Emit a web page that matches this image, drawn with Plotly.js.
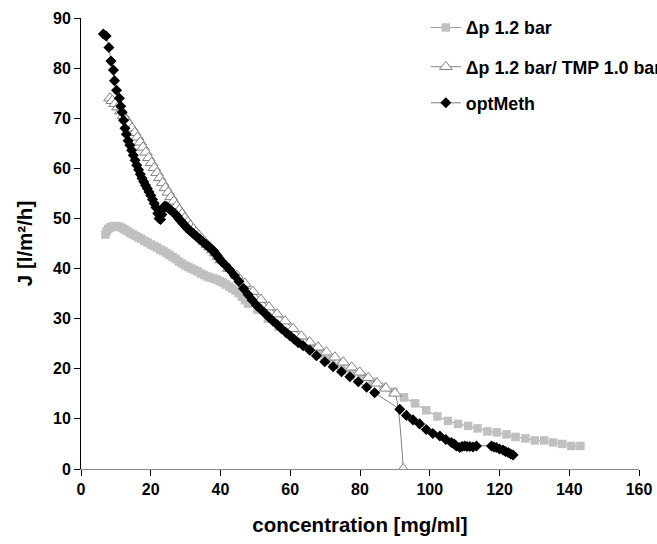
<!DOCTYPE html>
<html>
<head>
<meta charset="utf-8">
<script src="https://cdn.plot.ly/plotly-3.0.1.min.js"></script>
<style>html,body{margin:0;padding:0;background:#fff;}#chart{width:657px;height:544px;}</style>
</head>
<body>
<div id="chart"></div>
<script>
// Series: Δp 1.2 bar (grey squares)
const sqX = [7.0,7.3,7.8,8.4,9.0,9.7,10.4,11.1,11.8,12.5,13.3,14.1,14.9,15.7,16.5,17.3,18.2,19.1,20.0,20.9,21.8,22.7,23.6,24.5,25.4,26.3,27.2,28.1,29.0,29.9,30.8,31.7,32.6,33.5,34.4,35.3,36.2,37.1,38.0,38.9,39.8,40.7,41.6,42.5,43.4,44.3,45.2,46.1,47.0,47.9,50.6,53.6,56.6,59.6,62.6,65.6,68.6,71.6,74.6,77.6,80.6,83.6,86.6,89.6,92.6,95.8,99.0,102.2,105.2,108.1,111.0,113.7,116.5,119.2,122.0,124.6,127.4,130.1,132.8,135.4,138.0,140.6,143.2];
const sqY = [46.8,47.4,47.9,48.2,48.4,48.5,48.4,48.3,48.1,47.8,47.5,47.1,46.8,46.5,46.2,45.9,45.5,45.2,44.8,44.5,44.2,43.8,43.5,43.1,42.7,42.3,41.9,41.4,41.0,40.6,40.3,40.0,39.7,39.4,39.0,38.7,38.4,38.2,38.0,37.8,37.5,37.2,36.8,36.4,36.0,35.6,35.1,34.4,33.7,33.0,31.8,30.0,28.4,26.9,25.5,24.2,23.0,21.8,20.6,19.5,18.4,17.4,16.4,15.4,14.3,13.1,11.7,10.5,9.6,9.0,8.6,8.1,7.5,7.3,6.9,6.4,6.1,5.7,5.7,5.3,5.0,4.6,4.6];

// Series: Δp 1.2 bar/ TMP 1.0 bar (open triangles)
const triX = [8.3,9.0,9.8,10.6,11.4,12.2,13.0,13.8,14.6,15.4,16.2,17.0,17.8,18.6,19.4,20.2,21.0,21.8,22.6,23.4,24.2,25.0,25.8,26.6,27.4,28.2,29.0,29.8,30.6,31.4,32.2,33.0,33.8,34.6,35.4,36.2,37.0,37.8,38.6,39.4,40.2,42.4,44.7,47.0,49.3,51.6,53.9,56.2,58.5,60.8,63.2,65.6,68.0,70.4,72.8,75.2,77.6,79.9,82.4,84.9,87.4,90.0,92.4];
const triY = [74.0,73.5,72.9,72.2,71.4,70.5,69.6,68.8,68.0,67.1,66.2,65.2,64.2,63.2,62.1,61.1,60.1,59.1,58.1,57.1,56.1,55.2,54.3,53.4,52.5,51.7,50.9,50.1,49.3,48.6,47.9,47.2,46.6,46.0,45.4,44.8,44.3,43.7,43.1,42.4,41.7,40.0,38.6,37.0,35.4,33.8,32.3,30.9,29.5,28.0,26.5,25.3,24.3,23.3,22.3,21.3,20.3,19.3,18.2,17.1,16.1,15.1,0.0];

// Series: optMeth (black diamonds)
const bkX = [6.4,7.2,8.0,8.6,9.3,9.6,10.2,11.0,11.4,11.8,12.2,12.6,13.0,13.5,14.0,14.5,15.0,15.5,16.0,16.5,17.0,17.5,18.0,18.5,19.0,19.5,20.0,20.5,21.0,21.5,22.0,22.4,22.8,23.2,23.6,24.0,24.5,25.0,25.5,26.0,26.5,27.0,27.5,28.0,28.5,29.0,29.5,30.0,30.5,31.0,31.5,32.0,32.5,33.0,33.5,34.0,34.5,35.0,35.5,36.0,36.5,37.0,37.5,38.0,38.5,39.0,39.6,40.3,41.5,42.7,44.0,45.3,46.6,47.9,49.1,50.3,51.5,52.7,53.9,55.1,56.3,57.5,58.7,59.9,61.1,62.3,63.7,65.6,67.5,69.9,72.3,74.7,77.1,79.5,81.9,84.2,91.4,93.3,95.2,97.1,99.0,100.9,102.9,104.6,106.2,107.0,107.6,108.6,109.3,110.0,110.7,111.5,112.4,113.4,117.7,118.4,119.1,120.0,121.0,121.7,122.5,123.2,123.9];
const bkY = [86.8,86.4,84.1,81.4,79.6,77.5,75.6,74.0,72.4,71.2,69.6,68.0,66.8,65.5,64.6,63.6,62.6,61.6,60.6,59.7,58.8,58.0,57.3,56.6,56.0,55.3,54.6,53.8,53.0,52.2,51.0,50.0,49.8,50.8,51.9,52.5,52.4,52.1,51.8,51.5,51.2,50.9,50.5,50.0,49.6,49.2,48.8,48.4,48.0,47.7,47.4,47.1,46.8,46.5,46.2,45.9,45.6,45.3,45.0,44.7,44.4,44.1,43.8,43.5,43.0,42.6,42.0,41.4,40.6,39.7,38.6,37.4,36.0,34.8,33.7,32.7,31.9,31.1,30.3,29.5,28.8,28.0,27.3,26.6,25.9,25.2,24.6,23.7,22.6,21.4,20.4,19.4,18.4,17.4,16.3,15.2,11.9,10.7,9.8,9.0,7.9,7.1,6.6,5.9,5.3,5.0,4.6,4.3,4.5,4.6,4.5,4.5,4.4,4.6,4.6,4.4,4.3,4.0,3.8,3.5,3.3,3.0,2.8];

const seriesNames = ['Δp 1.2 bar', 'Δp 1.2 bar/ TMP 1.0 bar', 'optMeth'];
const xTitle = 'concentration [mg/ml]';
const yTitle = 'J [l/m²/h]';

const FONT = '"Liberation Sans", Arial, sans-serif';

const traces = [
  {
    x: sqX, y: sqY, name: seriesNames[0], type: 'scatter', mode: 'lines+markers',
    line: {color: '#9a9a9a', width: 1},
    marker: {symbol: 'square', size: 8.5, color: '#c0c0c0'},
    legend: 'legend'
  },
  {
    x: triX, y: triY, name: seriesNames[1], type: 'scatter', mode: 'lines+markers',
    line: {color: '#808080', width: 1, shape: 'spline', smoothing: 0.6},
    marker: {symbol: 'triangle-up', size: 11, color: '#ffffff', line: {color: '#808080', width: 1}},
    legend: 'legend2'
  },
  {
    x: bkX, y: bkY, name: seriesNames[2], type: 'scatter', mode: 'lines+markers',
    line: {color: '#808080', width: 1, shape: 'spline', smoothing: 0.6},
    marker: {symbol: 'diamond', size: 8.5, color: '#000000'},
    legend: 'legend3'
  }
];

const legBase = {
  x: 0.618, xanchor: 'left', yanchor: 'middle',
  bgcolor: 'rgba(0,0,0,0)', borderwidth: 0,
  font: {family: FONT, size: 17.8, weight: 'bold', color: '#000'}
};

const layout = {
  width: 657, height: 544,
  margin: {l: 81, r: 18, t: 18, b: 75, autoexpand: false},
  paper_bgcolor: '#ffffff', plot_bgcolor: '#ffffff',
  font: {family: FONT, color: '#000'},
  showlegend: true,
  xaxis: {
    range: [0, 160], tick0: 0, dtick: 20,
    ticks: 'outside', ticklen: 6, tickcolor: '#000', tickwidth: 1,
    showline: true, linecolor: '#888888', linewidth: 1,
    showgrid: false, zeroline: false,
    tickfont: {family: FONT, size: 16, weight: 'bold', color: '#000'},
    title: {text: xTitle, font: {family: FONT, size: 20.5, weight: 'bold', color: '#000'}, standoff: 20}
  },
  yaxis: {
    range: [0, 90], tick0: 0, dtick: 10,
    ticks: 'outside', ticklen: 6, tickcolor: '#000', tickwidth: 1,
    showline: true, linecolor: '#000', linewidth: 1,
    showgrid: false, zeroline: false,
    tickfont: {family: FONT, size: 16, weight: 'bold', color: '#000'},
    title: {text: yTitle, font: {family: FONT, size: 20.5, weight: 'bold', color: '#000'}, standoff: 14}
  },
  legend: Object.assign({}, legBase, {y: 0.978}),
  legend2: Object.assign({}, legBase, {y: 0.891}),
  legend3: Object.assign({}, legBase, {y: 0.811})
};

Plotly.newPlot('chart', traces, layout, {displayModeBar: false, staticPlot: true});
</script>
</body>
</html>
